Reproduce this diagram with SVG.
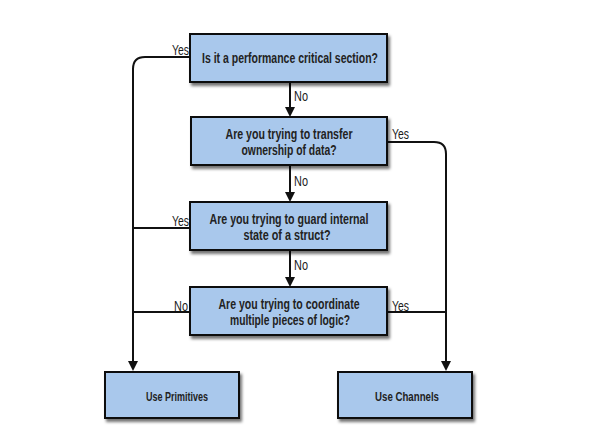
<svg xmlns="http://www.w3.org/2000/svg" width="601" height="440" viewBox="0 0 601 440">
<defs>
<style>
.box{fill:#a9c8ec;stroke:#111;stroke-width:2;filter:url(#sh)}
.t{font-family:"Liberation Sans",Arial,sans-serif;font-size:15px;font-weight:bold;fill:#222;text-anchor:middle}
.s{font-size:13.5px}
.l{font-family:"Liberation Sans",Arial,sans-serif;font-size:14px;fill:#1c1c1c}
.c{fill:none;stroke:#111;stroke-width:2}
</style>
<filter id="sh" x="-10%" y="-20%" width="130%" height="160%">
<feDropShadow dx="2" dy="3" stdDeviation="1.5" flood-color="#000" flood-opacity="0.55"/>
</filter>
</defs>
<rect width="601" height="440" fill="#fff"/>
<g id="connectors">
<path class="c" d="M190,57 H145 Q133,57 133,69 V362"/>
<path d="M128,361 L138,361 L133,371 Z" fill="#111"/>
<path class="c" d="M190,228 H133"/>
<path class="c" d="M190,312 H133"/>
<path class="c" d="M387,142 H434 Q446,142 446,154 V362"/>
<path d="M441,361 L451,361 L446,371 Z" fill="#111"/>
<path class="c" d="M387,312 H446"/>
<path class="c" d="M290,82 V108"/>
<path d="M285,107 L295,107 L290,117 Z" fill="#111"/>
<path class="c" d="M290,165 V193"/>
<path d="M285,192 L295,192 L290,202 Z" fill="#111"/>
<path class="c" d="M290,250 V278"/>
<path d="M285,277 L295,277 L290,287 Z" fill="#111"/>
<text class="l" transform="translate(172,55) scale(0.72,1)" textLength="23.6" lengthAdjust="spacingAndGlyphs">Yes</text>
<text class="l" transform="translate(294,101) scale(0.72,1)" textLength="19.4" lengthAdjust="spacingAndGlyphs">No</text>
<text class="l" transform="translate(392,139) scale(0.72,1)" textLength="23.6" lengthAdjust="spacingAndGlyphs">Yes</text>
<text class="l" transform="translate(294,186) scale(0.72,1)" textLength="19.4" lengthAdjust="spacingAndGlyphs">No</text>
<text class="l" transform="translate(172,226) scale(0.72,1)" textLength="23.6" lengthAdjust="spacingAndGlyphs">Yes</text>
<text class="l" transform="translate(294,270) scale(0.72,1)" textLength="19.4" lengthAdjust="spacingAndGlyphs">No</text>
<text class="l" transform="translate(174,311) scale(0.72,1)" textLength="19.4" lengthAdjust="spacingAndGlyphs">No</text>
<text class="l" transform="translate(392,311) scale(0.72,1)" textLength="23.6" lengthAdjust="spacingAndGlyphs">Yes</text>
</g>
<g id="q1">
<rect class="box" x="190" y="34" width="197" height="48"/>
<text class="t" transform="translate(290,63) scale(0.72,1)" textLength="244.4" lengthAdjust="spacingAndGlyphs">Is it a performance critical section?</text>
</g>
<g id="q2">
<rect class="box" x="191" y="117" width="196" height="48"/>
<text class="t" transform="translate(289,139) scale(0.72,1)" textLength="176.4" lengthAdjust="spacingAndGlyphs">Are you trying to transfer</text>
<text class="t" transform="translate(289,155) scale(0.72,1)" textLength="131.9" lengthAdjust="spacingAndGlyphs">ownership of data?</text>
</g>
<g id="q3">
<rect class="box" x="190" y="202" width="197" height="48"/>
<text class="t" transform="translate(289,224) scale(0.72,1)" textLength="220.8" lengthAdjust="spacingAndGlyphs">Are you trying to guard internal</text>
<text class="t" transform="translate(287,240) scale(0.72,1)" textLength="120.8" lengthAdjust="spacingAndGlyphs">state of a struct?</text>
</g>
<g id="q4">
<rect class="box" x="190" y="287" width="197" height="48"/>
<text class="t" transform="translate(289,309) scale(0.72,1)" textLength="195.8" lengthAdjust="spacingAndGlyphs">Are you trying to coordinate</text>
<text class="t" transform="translate(290,325) scale(0.72,1)" textLength="166.7" lengthAdjust="spacingAndGlyphs">multiple pieces of logic?</text>
</g>
<g id="primitives">
<rect class="box" x="105" y="372" width="134" height="46"/>
<text class="t s" transform="translate(177,401) scale(0.72,1)" textLength="86.1" lengthAdjust="spacingAndGlyphs">Use Primitives</text>
</g>
<g id="channels">
<rect class="box" x="338" y="372" width="134" height="46"/>
<text class="t s" transform="translate(407,401) scale(0.72,1)" textLength="88.9" lengthAdjust="spacingAndGlyphs">Use Channels</text>
</g>
</svg>
